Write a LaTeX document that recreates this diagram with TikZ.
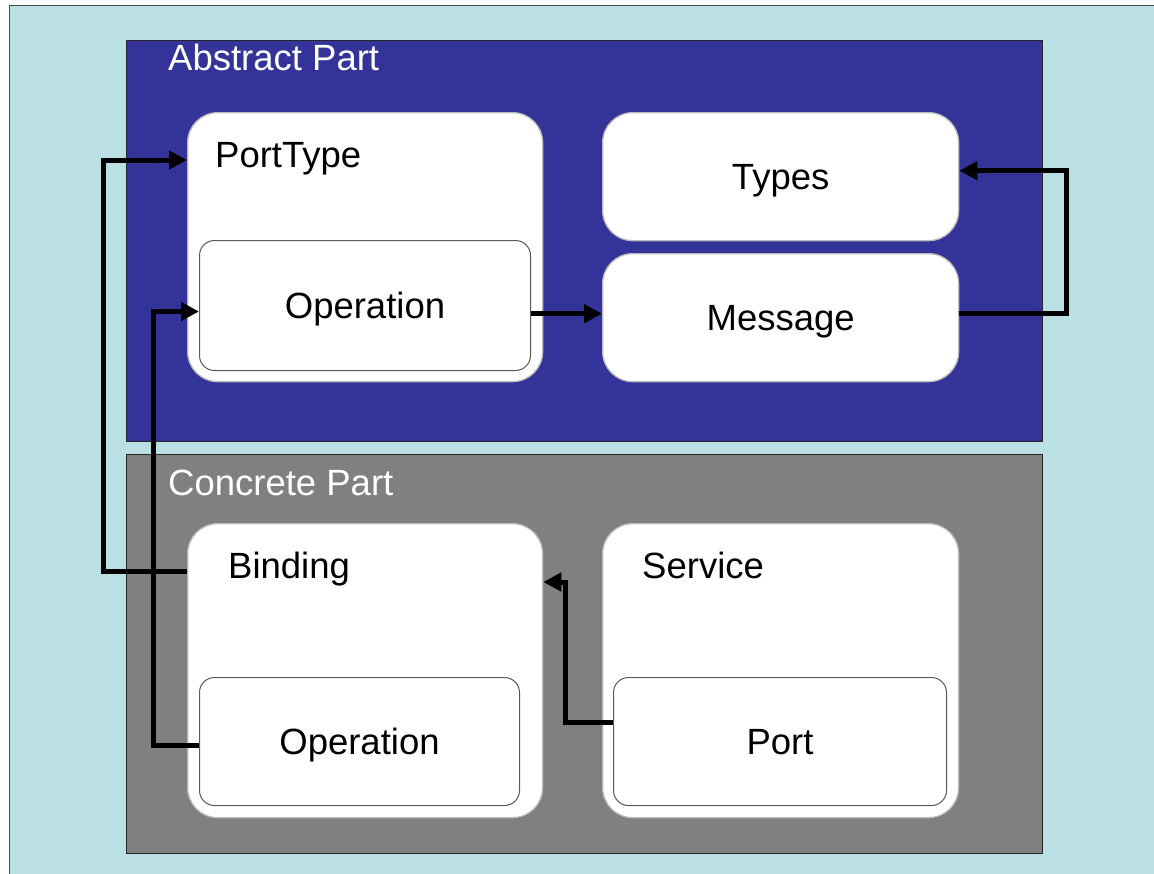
\documentclass[tikz,border=0pt]{standalone}
\usepackage{fontspec}
\setmainfont{Liberation Sans}
\usepackage{xcolor}
\usetikzlibrary{arrows.meta, positioning}

\definecolor{sheet}{HTML}{BBE0E3}
\definecolor{abstractfill}{HTML}{333399}
\definecolor{concretefill}{HTML}{808080}

\begin{document}
\begin{tikzpicture}[
    x=1pt, y=-1pt,
    font=\fontsize{36.5}{44}\selectfont,
    panel/.style={rectangle, draw=black!85, line width=1pt, anchor=north west, inner sep=0pt},
    part/.style={rectangle, draw=gray!55, fill=white, line width=1.3pt, rounded corners=30pt, anchor=north west, inner sep=0pt, text height=26pt, text depth=0pt},
    inner/.style={rectangle, draw=black!65, fill=white, line width=1pt, rounded corners=15pt, anchor=north west, inner sep=0pt, text height=26pt, text depth=0pt},
    title/.style={anchor=base west, inner sep=0pt},
    link/.style={line width=5pt, -{Triangle[length=18pt, width=18pt]}}
]
    \useasboundingbox (0,0) rectangle (1154,873);

    % Sheet
    \draw[fill=sheet, draw=black!70, line width=1pt] (9,5) rectangle (1175,895);

    % Abstract part
    \node[panel, fill=abstractfill, minimum width=916pt, minimum height=401pt] (abstract) at (126,40) {};
    \node[title, text=white] (abstracttitle) at (168,70) {Abstract Part};

    % Concrete part
    \node[panel, fill=concretefill, minimum width=916pt, minimum height=399pt] (concrete) at (126,454) {};
    \node[title, text=white] (concretetitle) at (168,495) {Concrete Part};

    % PortType
    \node[part, minimum width=355pt, minimum height=269pt] (porttype) at (187,112) {};
    \node[title] (porttypetitle) at (215,167) {PortType};
    \node[inner, minimum width=331pt, minimum height=130pt] (portop) at (199,240) {Operation};

    % Types and Message
    \node[part, minimum width=356pt, minimum height=128pt] (types) at (602,112) {Types};
    \node[part, minimum width=356pt, minimum height=128pt] (message) at (602,253) {Message};

    % Binding
    \node[part, minimum width=355pt, minimum height=294pt] (binding) at (187,523) {};
    \node[title] (bindingtitle) at (228,578) {Binding};
    \node[inner, minimum width=320pt, minimum height=128pt] (bindop) at (199,677) {Operation};

    % Service
    \node[part, minimum width=356pt, minimum height=294pt] (service) at (602,523) {};
    \node[title] (servicetitle) at (642,578) {Service};
    \node[inner, minimum width=333pt, minimum height=128pt] (port) at (613,677) {Port};

    % Arrows
    \draw[link] ([yshift=-48pt]binding.north west) -- ++(-84,0) |- ([yshift=-48pt]porttype.north west);
    \draw[link] ([yshift=-4pt]bindop.west) -- ++(-46,0) |- ([yshift=-6pt]portop.west);
    \draw[link] ([yshift=4pt]message.west -| portop.east) -- ([yshift=4pt]message.west);
    \draw[link] ([yshift=4pt]message.east) -- ++(107,0) |- ([yshift=6pt]types.east);
    \draw[link] ([yshift=19pt]port.west) -- ++(-48,0) |- ([yshift=-59pt]binding.north east);

\end{tikzpicture}
\end{document}
